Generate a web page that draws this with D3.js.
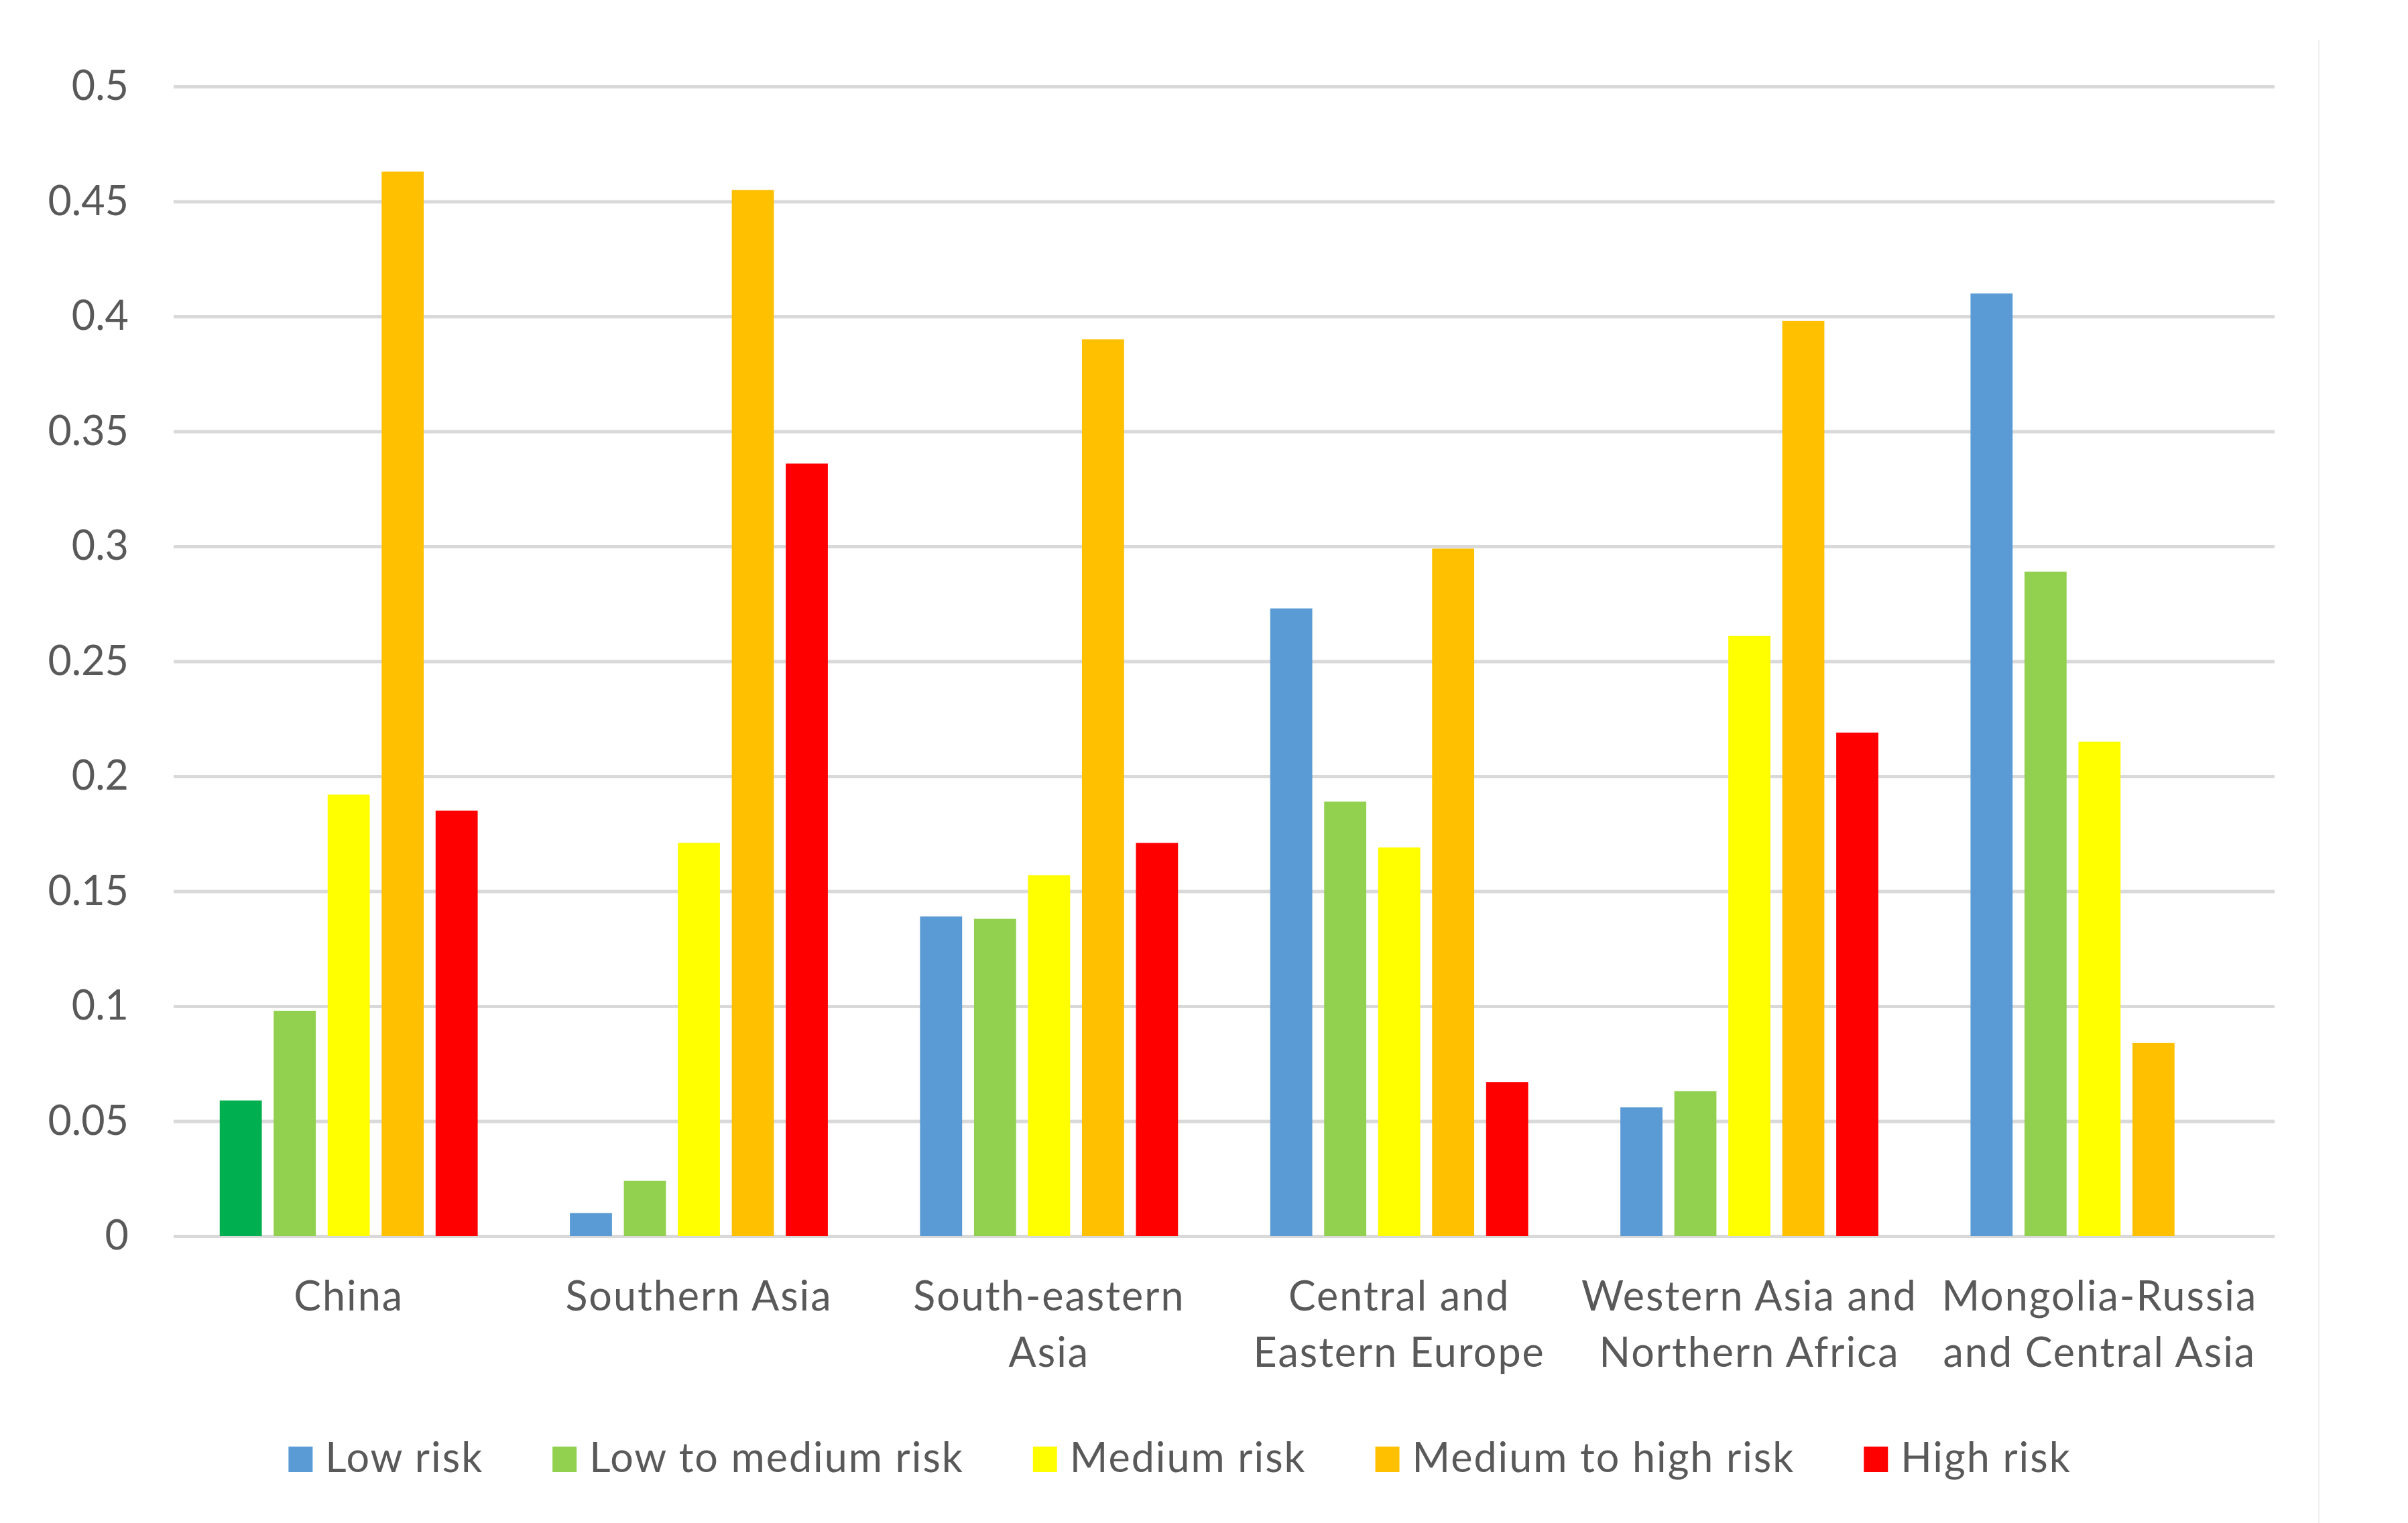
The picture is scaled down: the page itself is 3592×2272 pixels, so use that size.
<!DOCTYPE html>
<html>
<head>
<meta charset="utf-8">
<script src="https://cdn.jsdelivr.net/npm/d3@7"></script>
<style>
  body { margin: 0; background: #fff; }
  text { font-family: Lato, "Open Sans", sans-serif; fill: #595959; }
</style>
</head>
<body>
<svg id="chart"></svg>
<script>

const regions = ["China", "Southern Asia", "South-eastern Asia", "Central and Eastern Europe",
  "Western Asia and Northern Africa", "Mongolia-Russia and Central Asia"];
const regionLines = [["China"], ["Southern Asia"], ["South-eastern", "Asia"], ["Central and", "Eastern Europe"],
  ["Western Asia and", "Northern Africa"], ["Mongolia-Russia", "and Central Asia"]];

const riskLevels = ["Low risk", "Low to medium risk", "Medium risk", "Medium to high risk", "High risk"];
const riskColors = ["#5B9BD5", "#92D050", "#FFFF00", "#FFC000", "#FF0000"];

const lowRisk          = [0.059, 0.010, 0.139, 0.273, 0.056, 0.410];
const lowToMediumRisk  = [0.098, 0.024, 0.138, 0.189, 0.063, 0.289];
const mediumRisk       = [0.192, 0.171, 0.157, 0.169, 0.261, 0.215];
const mediumToHighRisk = [0.463, 0.455, 0.390, 0.299, 0.398, 0.084];
const highRisk         = [0.185, 0.336, 0.171, 0.067, 0.219, null];

// the China "low risk" bar is filled dark green in the source
const pointColors = {"China|Low risk": "#00B050"};

const yTicks = [0, 0.05, 0.1, 0.15, 0.2, 0.25, 0.3, 0.35, 0.4, 0.45, 0.5];

const series = [lowRisk, lowToMediumRisk, mediumRisk, mediumToHighRisk, highRisk];
const rows = regions.map((r, i) => ({
  region: r,
  values: riskLevels.map((k, j) => ({risk: k, value: series[j][i]}))
}));

const W = 3592, H = 2272;
const plotLeft = 259, plotRight = 3393, plotTop = 129, plotBottom = 1844;

let svg = d3.select("#chart")
  .attr("width", W)
  .attr("height", H);

let x0 = d3.scaleBand()
  .domain(regions)
  .range([plotLeft, plotRight]);

let x1 = d3.scaleBand()
  .domain(riskLevels)
  .range([0, x0.bandwidth()])
  .paddingInner(0.22)
  .paddingOuter(0.854);

let y = d3.scaleLinear()
  .domain([0, 0.5])
  .range([plotBottom, plotTop]);

// faint chart border on the right
svg.append("line")
  .attr("x1", 3459).attr("x2", 3459)
  .attr("y1", 60).attr("y2", H)
  .style("stroke", "#f1f1f1")
  .style("stroke-width", 2);

let yAxis = svg.append("g")
  .attr("transform", `translate(${plotLeft},0)`)
  .call(d3.axisLeft(y)
    .tickValues(yTicks)
    .tickSize(-(plotRight - plotLeft))
    .tickPadding(67)
    .tickFormat(d => String(d)));

yAxis.select(".domain").remove();
yAxis.selectAll(".tick line")
  .style("stroke", "#D9D9D9")
  .style("stroke-width", 5);
yAxis.selectAll(".tick text")
  .style("font-size", "61px")
  .style("fill", "#595959")
  .style("font-family", "Lato, sans-serif");

let groups = svg.append("g")
  .selectAll("g")
  .data(rows)
  .join("g")
  .attr("transform", d => `translate(${x0(d.region)},0)`);

groups.selectAll("rect")
  .data(d => d.values.filter(v => v.value != null).map(v => Object.assign({region: d.region}, v)))
  .join("rect")
  .attr("x", d => x1(d.risk))
  .attr("width", x1.bandwidth())
  .attr("y", d => y(d.value))
  .attr("height", d => y(0) - y(d.value))
  .style("fill", d => pointColors[d.region + "|" + d.risk] || riskColors[riskLevels.indexOf(d.risk)]);

let xAxis = svg.append("g")
  .attr("transform", `translate(0,${plotBottom})`)
  .call(d3.axisBottom(x0).tickSize(0).tickPadding(0));

xAxis.select(".domain").remove();
xAxis.selectAll(".tick text")
  .text(null)
  .attr("y", 0)
  .attr("dy", null)
  .style("font-size", "61px")
  .style("letter-spacing", "2px")
  .style("fill", "#595959")
  .style("font-family", "Lato, sans-serif")
  .each(function(d, i) {
    let t = d3.select(this);
    regionLines[i].forEach((line, k) => {
      t.append("tspan")
        .attr("x", 0)
        .attr("y", 111 + k * 84)
        .text(line);
    });
  });

// legend
let legend = svg.append("g");
let cursor = 0;
riskLevels.forEach((k, i) => {
  let item = legend.append("g").attr("transform", `translate(${cursor},0)`);
  item.append("rect")
    .attr("x", 0)
    .attr("y", -38)
    .attr("width", 36)
    .attr("height", 38)
    .style("fill", riskColors[i]);
  let label = item.append("text")
    .attr("x", 55)
    .attr("y", 0)
    .style("font-size", "61px")
    .style("letter-spacing", "2px")
    .text(k);
  cursor += 55 + label.node().getComputedTextLength() + 103;
});
let legendWidth = cursor - 103;
legend.attr("transform", `translate(${1760 - legendWidth / 2},2196)`);

</script>
</body>
</html>
